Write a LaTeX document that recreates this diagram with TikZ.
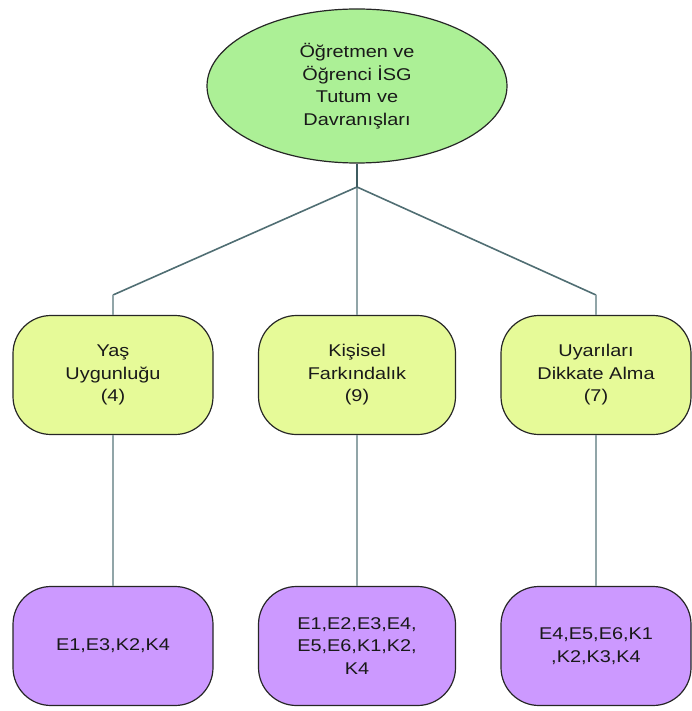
\documentclass[tikz,border=0pt]{standalone}
\usepackage{fontspec}
\setmainfont{Liberation Sans}[FakeStretch=1.17]
\usetikzlibrary{shapes.geometric}

\definecolor{topgreen}{RGB}{172,240,150}
\definecolor{midyellow}{RGB}{230,250,152}
\definecolor{lowpurple}{RGB}{204,153,255}
\definecolor{stemgray}{RGB}{62,92,96}
\definecolor{diaggray}{RGB}{80,110,115}
\definecolor{vertgray}{RGB}{145,165,168}

\begin{document}
\begin{tikzpicture}[x=1pt,y=-1pt]
		% Define styles for the boxes and the lines
		\tikzset{
			txt/.style={align=center, font=\fontsize{17}{22.5}\selectfont, text=black!90},
			rootnode/.style={txt, ellipse, draw=black!85, line width=1.2pt, fill=topgreen, minimum width=300, minimum height=154, inner sep=0pt},
			midbox/.style={txt, draw=black!85, line width=1.2pt, rounded corners=38pt, fill=midyellow, minimum height=119, inner sep=0pt},
			lowbox/.style={txt, draw=black!85, line width=1.2pt, rounded corners=38pt, fill=lowpurple, minimum height=119, inner sep=0pt},
			stem/.style={draw=stemgray, line width=2.2pt},
			diag/.style={draw=diaggray, line width=1.6pt},
			vert/.style={draw=vertgray, line width=2.2pt}
		}
		
		% Fix the margins of the picture
		\useasboundingbox (0,0) rectangle (691,711);
		
		% Draw the root ellipse
		\node[rootnode] (root) at (357,86) {Öğretmen ve\\Öğrenci İSG\\Tutum ve\\Davranışları};
		
		% Draw the middle row
		\node[midbox, minimum width=200] (yas) at (113,375) {Yaş\\Uygunluğu\\(4)};
		\node[midbox, minimum width=197] (kisisel) at (357,375) {Kişisel\\Farkındalık\\(9)};
		\node[midbox, minimum width=190] (uyari) at (596,375) {Uyarıları\\Dikkate Alma\\(7)};
		
		% Draw the bottom row
		\node[lowbox, minimum width=200] (yaskod) at (113,646) {E1,E3,K2,K4};
		\node[lowbox, minimum width=197] (kisiselkod) at (357,646) {E1,E2,E3,E4,\\E5,E6,K1,K2,\\K4};
		\node[lowbox, minimum width=190] (uyarikod) at (596,646) {E4,E5,E6,K1\\,K2,K3,K4};
		
		% Junction and elbow points
		\coordinate (junc) at (357,187);
		\coordinate (leftelbow) at (113,295);
		\coordinate (rightelbow) at (596,295);
		
		% Connect the root to the middle row
		\draw[vert] (junc) -- (kisisel.north);
		\draw[diag] (junc) -- (leftelbow);
		\draw[diag] (junc) -- (rightelbow);
		\draw[vert] (leftelbow) -- (yas.north);
		\draw[vert] (rightelbow) -- (uyari.north);
		\draw[stem] (root.south) -- (junc);
		
		% Connect the middle row to the bottom row
		\draw[vert] (yas.south) -- (yaskod.north);
		\draw[vert] (kisisel.south) -- (kisiselkod.north);
		\draw[vert] (uyari.south) -- (uyarikod.north);
	\end{tikzpicture}
\end{document}
